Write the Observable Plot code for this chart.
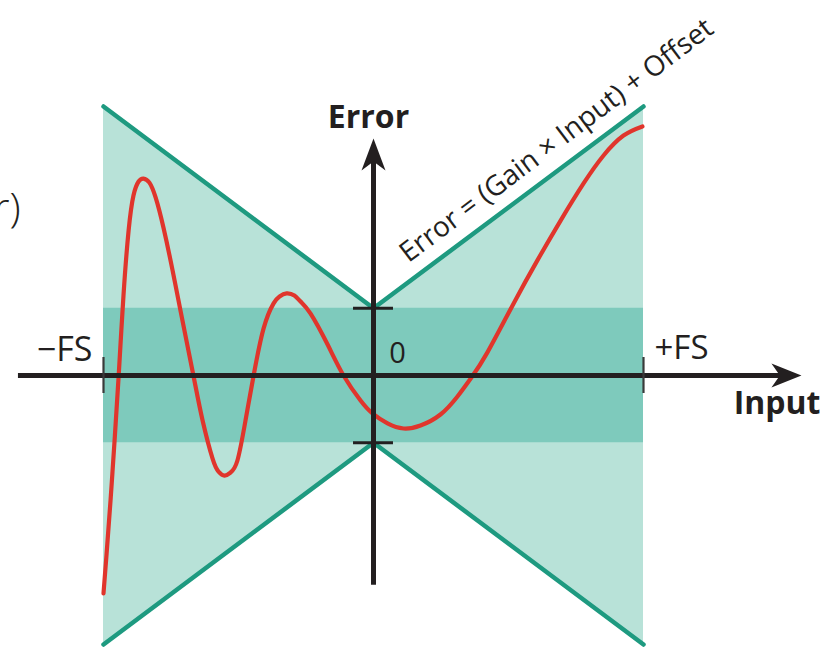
<!DOCTYPE html>
<html>
<head>
<meta charset="utf-8">
<script src="https://cdn.jsdelivr.net/npm/d3@7"></script>
<script src="https://cdn.jsdelivr.net/npm/@observablehq/plot@0.6"></script>
<style>
  html, body { margin: 0; padding: 0; background: #ffffff; }
  #chart svg { display: block; }
</style>
</head>
<body>
<div id="chart"></div>
<script>
// ---- data ----
// Input normalised to full scale (−FS = -1, +FS = +1); error in same units
const curveInput = [-1.000, -0.989, -0.974, -0.959, -0.944, -0.926, -0.907, -0.889, -0.870, -0.852, -0.830, -0.807, -0.778, -0.744, -0.715, -0.667, -0.633, -0.596, -0.574, -0.552, -0.530, -0.504, -0.474, -0.444, -0.407, -0.370, -0.348, -0.322, -0.293, -0.270, -0.233, -0.170, -0.111, -0.048, -0.004, 0.052, 0.111, 0.174, 0.248, 0.311, 0.363, 0.422, 0.519, 0.607, 0.693, 0.778, 0.852, 0.926, 0.996];
const curveError = [-0.810, -0.669, -0.465, -0.242, -0.004, 0.297, 0.539, 0.669, 0.721, 0.732, 0.717, 0.662, 0.550, 0.390, 0.242, 0.000, -0.167, -0.309, -0.357, -0.372, -0.361, -0.316, -0.167, 0.000, 0.175, 0.268, 0.294, 0.305, 0.297, 0.275, 0.230, 0.115, 0.000, -0.093, -0.141, -0.178, -0.197, -0.186, -0.145, -0.078, -0.007, 0.086, 0.268, 0.428, 0.576, 0.714, 0.818, 0.892, 0.926];

const envelopeInput = [-1, 0, 1];
const envelopeHalf = [1, 0.25, 1];      // (gain × |input|) + offset
const offsetLevels = [-0.25, 0.25];
const fsTicks = [-1, 1];
const fsLabels = ["−FS", "+FS"];
const axisXExtent = [-1.315, 1.585];
const axisYExtent = [-0.78, 0.881];

// ---- derived tables ----
const curve = curveInput.map((x, i) => ({x, y: curveError[i]}));
const envelope = envelopeInput.map((x, i) => ({x, h: envelopeHalf[i]}));

const ink = "#231f20";
const teal = "#1e9a80";
const font = "'Open Sans', 'Noto Sans', sans-serif";

const stealth = {
  draw(context, l) {
    const w = 12;
    context.moveTo(0, -l);
    context.lineTo(w, 0);
    context.lineTo(0, -l * 0.28);
    context.lineTo(-w, 0);
    context.closePath();
  }
};

const chart = Plot.plot({
  width: 832,
  height: 647,
  x: {domain: [-1, 1], range: [103, 643], axis: null},
  y: {domain: [-1, 1], range: [644, 106], axis: null},
  style: {fontFamily: font, background: "#ffffff", overflow: "visible"},
  marks: [
    Plot.areaY(envelope, {x: "x", y1: d => -d.h, y2: d => d.h, fill: "#b8e2d8"}),
    Plot.rect([offsetLevels], {x1: () => fsTicks[0], x2: () => fsTicks[1], y1: d => d[0], y2: d => d[1], fill: "#7ecabc"}),
    Plot.line(envelope, {x: "x", y: "h", stroke: teal, strokeWidth: 4.5}),
    Plot.line(envelope, {x: "x", y: d => -d.h, stroke: teal, strokeWidth: 4.5}),
    Plot.line(curve, {x: "x", y: "y", curve: "natural", stroke: "#e0352c", strokeWidth: 4.2}),
    // axes
    Plot.ruleY([0], {x1: axisXExtent[0], x2: axisXExtent[1] - 0.06, stroke: ink, strokeWidth: 5}),
    Plot.ruleX([0], {y1: axisYExtent[0], y2: axisYExtent[1] - 0.06, stroke: ink, strokeWidth: 5}),
    Plot.vector([axisXExtent[1]], {x: d => d, y: 0, rotate: 90, length: 30, anchor: "end", shape: stealth, fill: ink, stroke: "none"}),
    Plot.vector([axisYExtent[1]], {x: 0, y: d => d, rotate: 0, length: 32, anchor: "end", shape: stealth, fill: ink, stroke: "none"}),
    // ticks
    Plot.ruleX(fsTicks, {x: d => d, y1: -0.067, y2: 0.067, stroke: "#3a3a3a", strokeWidth: 2.2}),
    Plot.ruleY(offsetLevels, {y: d => d, x1: -0.074, x2: 0.074, stroke: ink, strokeWidth: 3}),
    // labels
    Plot.text([fsLabels[0]], {x: fsTicks[0], y: 0, text: d => d, textAnchor: "end", lineAnchor: "bottom", dx: -11, dy: -15, fontSize: 34, fill: ink}),
    Plot.text([fsLabels[1]], {x: fsTicks[1], y: 0, text: d => d, textAnchor: "start", lineAnchor: "bottom", dx: 11, dy: -17, fontSize: 33, fill: ink}),
    Plot.text(["0"], {x: 0, y: 0, text: d => d, lineAnchor: "bottom", dx: 24, dy: -13, fontSize: 29, fill: ink}),
    Plot.text(["Input"], {x: axisXExtent[1], y: 0, text: d => d, textAnchor: "end", lineAnchor: "bottom", dx: 19, dy: 38, fontSize: 32, fontWeight: "bold", fill: ink}),
    Plot.text(["Error"], {x: 0, y: axisYExtent[1], text: d => d, lineAnchor: "bottom", dx: -5, dy: -11, fontSize: 32, fontWeight: "bold", fill: ink}),
    Plot.text(["Error = (Gain × Input) + Offset"], {x: 0.678, y: 0.7585, text: d => d, rotate: -37, dy: -31, fontSize: 28, fill: ink}),
    Plot.text(["r)"], {x: -1.307, y: 0.57, text: d => d, textAnchor: "end", lineAnchor: "bottom", fontSize: 41, fontWeight: 300, fill: ink})
  ]
});

document.getElementById("chart").appendChild(chart);
</script>
</body>
</html>
